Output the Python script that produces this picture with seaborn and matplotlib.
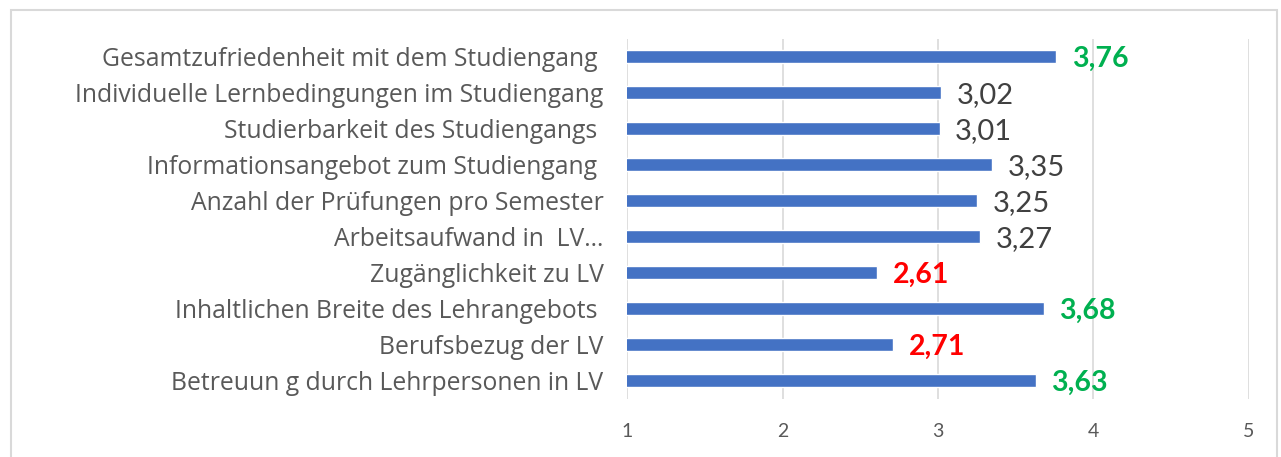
import matplotlib
matplotlib.use("Agg")
import pandas as pd
import seaborn as sns
import matplotlib.pyplot as plt
from matplotlib.patches import Rectangle

categories = [
    "Gesamtzufriedenheit mit dem Studiengang ",
    "Individuelle Lernbedingungen im Studiengang",
    "Studierbarkeit des Studiengangs ",
    "Informationsangebot zum Studiengang ",
    "Anzahl der Prüfungen pro Semester",
    "Arbeitsaufwand in  LV…",
    "Zugänglichkeit zu LV",
    "Inhaltlichen Breite des Lehrangebots ",
    "Berufsbezug der LV",
    "Betreuun g durch Lehrpersonen in LV",
]
values = [3.76, 3.02, 3.01, 3.35, 3.25, 3.27, 2.61, 3.68, 2.71, 3.63]
value_colors = ["#00B050", "#404040", "#404040", "#404040", "#404040",
                "#404040", "#FF0000", "#00B050", "#FF0000", "#00B050"]
x_ticks = [1, 2, 3, 4, 5]

df = pd.DataFrame({"label": categories, "value": values})

sns.set_style("white")
plt.rcParams["font.family"] = ["Lato", "DejaVu Sans"]

fig = plt.figure(figsize=(12.81, 4.57), dpi=100)
ax = fig.add_axes([0.4895, 0.127, 0.4855, 0.788])

sns.barplot(data=df, y="label", x="value", orient="h", color="#4472C4",
            width=0.36, saturation=1, ax=ax, zorder=2)

ax.set_xlim(1, 5)
ax.set_xticks(x_ticks)
ax.set_xticklabels([str(t) for t in x_ticks])
ax.grid(axis="x", color="#D9D9D9", linewidth=1.2, zorder=0)
ax.set_axisbelow(True)
for s in ax.spines.values():
    s.set_visible(False)
ax.set_xlabel("")
ax.set_ylabel("")
ax.tick_params(axis="x", length=0, pad=17, labelsize=14, labelcolor="#595959")
ax.tick_params(axis="y", length=0, pad=17, labelcolor="#595959")
for lbl in ax.get_yticklabels():
    lbl.set_fontfamily(["Open Sans", "DejaVu Sans"])
    lbl.set_fontsize(17.8)

for i, (v, c) in enumerate(zip(values, value_colors)):
    bold = c != "#404040"
    ax.text(v + 0.1, i + 0.06, f"{v:.2f}".replace(".", ","), color=c,
            fontsize=21 if not bold else 20.5,
            fontweight="bold" if bold else "normal",
            va="center", ha="left", clip_on=False)

fig.patches.append(Rectangle((11 / 1281, -0.01), 1266 / 1281, 1 - 10 / 457 + 0.01,
                             transform=fig.transFigure, fill=False,
                             edgecolor="#D9D9D9", linewidth=1.5))

fig.savefig("out.png", dpi=100)
